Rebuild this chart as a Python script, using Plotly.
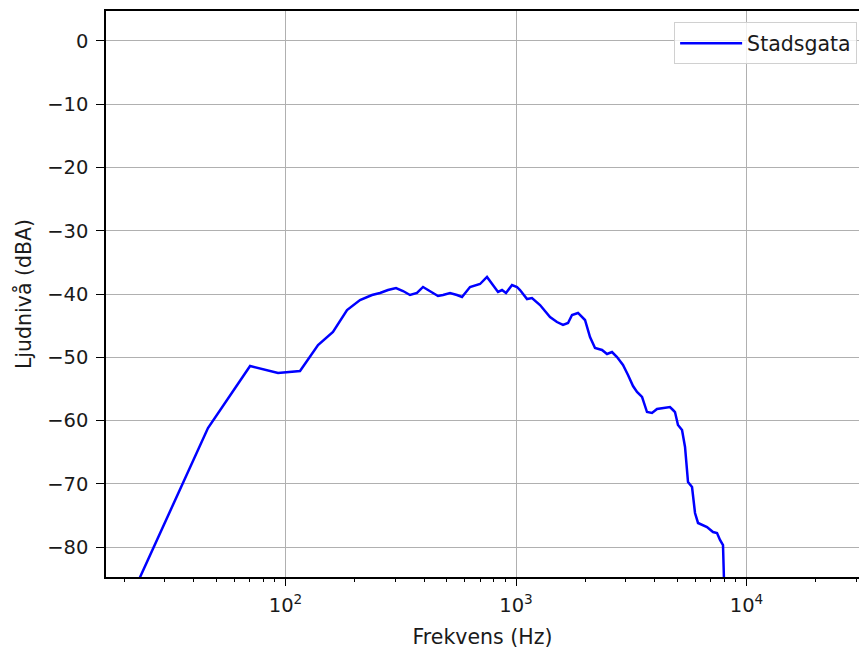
import plotly.graph_objects as go

freq_hz = [20.0, 46.1, 70.2, 92.8, 115.6, 125.2, 138.4, 160.7, 184.9, 210.5,
           237.3, 257.0, 278.4, 301.6, 323.5, 346.8, 371.9, 395.0, 423.6, 458.8,
           482.3, 517.3, 554.6, 583.1, 631.7, 698.1, 748.5, 794.7, 835.5, 869.6,
           904.9, 960.9, 1010.0, 1040.8, 1116.2, 1173.3, 1271.2, 1404.8, 1506.0, 1599.5,
           1681.4, 1749.8, 1857.7, 1992.3, 2094.5, 2201.7, 2361.3, 2482.3, 2609.2, 2742.9,
           2912.0, 3061.4, 3218.5, 3349.7, 3521.6, 3701.2, 3890.5, 4089.9, 4343.0, 4656.0,
           4798.0, 4895.0, 5043.0, 5251.0, 5411.0, 5575.0, 5803.0, 5979.0, 6161.0, 6741.0,
           7155.0, 7448.0, 7674.0, 7907.0, 8200.0]
level_dba = [-90.2, -61.19, -51.38, -52.49, -52.17, -50.28, -48.06, -46.01, -42.53, -40.95,
             -40.16, -39.84, -39.37, -39.05, -39.53, -40.16, -39.84, -38.89, -39.53, -40.32,
             -40.16, -39.84, -40.16, -40.47, -38.89, -38.42, -37.31, -38.58, -39.68, -39.37,
             -39.84, -38.58, -38.89, -39.37, -40.79, -40.63, -41.74, -43.64, -44.43, -44.90,
             -44.59, -43.32, -43.00, -44.11, -46.80, -48.54, -48.85, -49.49, -49.17, -49.96,
             -51.23, -52.81, -54.55, -55.49, -56.28, -58.66, -58.81, -58.18, -58.02, -57.87,
             -58.34, -58.66, -60.71, -61.50, -64.19, -69.72, -70.51, -74.62, -76.20, -76.84,
             -77.63, -77.79, -78.89, -79.68, -100.0]

x_major_vals = [100, 1000, 10000]
x_major_text = ["10<sup>2</sup>", "10<sup>3</sup>", "10<sup>4</sup>"]
x_minor_vals = [20, 30, 40, 50, 60, 70, 80, 90,
                200, 300, 400, 500, 600, 700, 800, 900,
                2000, 3000, 4000, 5000, 6000, 7000, 8000, 9000,
                20000, 30000]
y_tick_vals = [0, -10, -20, -30, -40, -50, -60, -70, -80]

x_range_log = [1.2213, 4.488]
y_range = [-84.74, 4.74]

font_family = "DejaVu Sans"
fs_tick = 19.5
fs_title = 20.5

fig = go.Figure()
fig.add_trace(go.Scatter(x=freq_hz, y=level_dba, mode="lines", name="Stadsgata",
                         line=dict(color="#0000ff", width=2.5)))
# invisible trace to bind the minor-tick axis
fig.add_trace(go.Scatter(x=[], y=[], xaxis="x2", showlegend=False, hoverinfo="skip"))

fig.update_layout(
    width=859, height=652,
    margin=dict(l=106, r=0, t=11, b=75),
    paper_bgcolor="white", plot_bgcolor="white",
    font=dict(family=font_family, size=fs_tick, color="#1a1a1a"),
    showlegend=True,
    legend=dict(x=0.9975, xanchor="right", y=0.98, yanchor="top",
                bgcolor="rgba(255,255,255,0.8)", bordercolor="#d0d0d0", borderwidth=1,
                font=dict(size=fs_title), itemwidth=62, tracegroupgap=0),
    xaxis=dict(type="log", range=x_range_log, tickvals=x_major_vals, ticktext=x_major_text,
               ticks="outside", ticklen=7, tickwidth=1.3, tickcolor="black",
               ticklabelstandoff=3,
               showgrid=True, gridcolor="#b0b0b0", gridwidth=1.4,
               showline=True, linecolor="black", linewidth=1.5, mirror=True,
               zeroline=False,
               title=dict(text="Frekvens (Hz)", standoff=13, font=dict(size=fs_title))),
    xaxis2=dict(type="log", range=x_range_log, overlaying="x", anchor="y",
                tickvals=x_minor_vals, ticks="outside", ticklen=4, tickwidth=1.1,
                tickcolor="black", showticklabels=False, showgrid=False,
                showline=False, zeroline=False),
    yaxis=dict(range=y_range, tickvals=y_tick_vals,
               ticks="outside", ticklen=8, tickwidth=1.3, tickcolor="black",
               ticklabelstandoff=4,
               showgrid=True, gridcolor="#b0b0b0", gridwidth=1.4,
               showline=True, linecolor="black", linewidth=1.5,
               zeroline=False,
               title=dict(text="Ljudnivå (dBA)", standoff=10, font=dict(size=fs_title))),
)

fig.write_html("out.html")
